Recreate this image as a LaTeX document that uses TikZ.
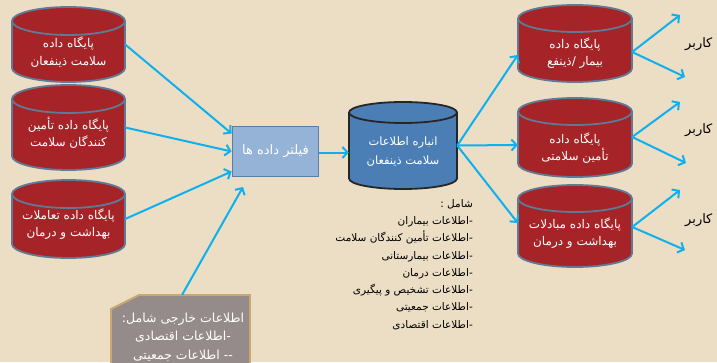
\documentclass[tikz,border=0pt]{standalone}
\usepackage{fontspec}
\usetikzlibrary{arrows.meta}
\TeXXeTstate=1
\newfontfamily\arabicfont[Script=Arabic]{DejaVu Sans}
\newcommand\fa[1]{\beginR #1\endR}
\definecolor{bgc}{RGB}{235,222,197}
\definecolor{dbred}{RGB}{166,36,40}
\definecolor{cylline}{RGB}{96,122,150}
\definecolor{dbblue}{RGB}{76,126,182}
\definecolor{filterfill}{RGB}{149,179,215}
\definecolor{filterline}{RGB}{90,126,166}
\definecolor{extfill}{RGB}{150,139,139}
\definecolor{extline}{RGB}{201,169,110}
\definecolor{arrowc}{RGB}{14,176,238}
\tikzset{
  conn/.style={draw=arrowc, line width=2pt, -{Straight Barb[length=5pt,width=11pt]}},
  wtext/.style={text=white, font=\arabicfont\fontsize{12}{17.5}\selectfont, align=center},
  btext/.style={text=black, font=\arabicfont\fontsize{10.5}{17.3}\selectfont, align=right},
  usertext/.style={text=black, font=\arabicfont\fontsize{13}{15}\selectfont},
  bodybox/.style={inner sep=0pt, draw=none},
}
% #1 name, #2 L, #3 R, #4 top(px), #5 bottom(px), #6 ry, #7 fill, #8 outline, #9 text y(px)
\newcommand\dbcyl[9]{%
  \pgfmathsetmacro\cx{(#2+#3)/2}%
  \pgfmathsetmacro\rx{(#3-#2)/2}%
  \pgfmathsetmacro\yt{362-#4-#6}%
  \pgfmathsetmacro\yb{362-#5+#6}%
  \pgfmathsetmacro\ww{#3-#2}%
  \pgfmathsetmacro\hh{#5-#4}%
  \pgfmathsetmacro\ym{362-(#4+#5)/2}%
  \fill[#7] (#2,\yt) -- (#2,\yb) arc[start angle=180,end angle=360,x radius=\rx pt,y radius=#6 pt] -- (#3,\yt) -- cycle;
  \draw[#8, line width=1.8pt] (#2,\yt) -- (#2,\yb) arc[start angle=180,end angle=360,x radius=\rx pt,y radius=#6 pt] -- (#3,\yt);
  \filldraw[fill=#7, draw=#8, line width=1.8pt] (\cx,\yt) ellipse [x radius=\rx pt, y radius=#6 pt];
  \node[bodybox, minimum width=\ww pt, minimum height=\hh pt] (#1) at (\cx,\ym) {};
  \coordinate (#1-t) at (\cx,362-#9);
}
\begin{document}
\begin{tikzpicture}[x=1pt,y=1pt]
\useasboundingbox (0,0) rectangle (717,362);
\clip (0,0) rectangle (717,362);
\fill[bgc] (0,0) rectangle (717,362);

% left databases
\dbcyl{c1}{12}{125}{7}{82}{14}{dbred}{cylline}{52}
\node[wtext] (c1t) at (c1-t) {\fa{پایگاه داده}\\\fa{سلامت ذینفعان}};
\dbcyl{c2}{12}{125}{85}{170}{14}{dbred}{cylline}{133}
\node[wtext] (c2t) at (c2-t) {\fa{پایگاه داده تأمین}\\\fa{کنندگان سلامت}};
\dbcyl{c3}{12}{125}{180}{258}{14}{dbred}{cylline}{224}
\node[wtext] (c3t) at (c3-t) {\fa{پایگاه داده تعاملات}\\\fa{بهداشت و درمان}};

% filter
\node[draw=filterline, fill=filterfill, line width=1.8pt, minimum width=86pt, minimum height=50pt,
      text=white, font=\arabicfont\fontsize{13}{15}\selectfont] (filter) at (275.5,362-151.5) {\fa{فیلتر داده ها}};

% center warehouse
\dbcyl{cc}{349}{457}{102}{189}{10.5}{dbblue}{black!85}{152}
\node[wtext, font=\arabicfont\fontsize{11.5}{19}\selectfont] (cct) at (cc-t) {\fa{انباره اطلاعات}\\\fa{سلامت ذینفعان}};

% right databases
\dbcyl{ra}{518}{632}{5}{82}{13.5}{dbred}{cylline}{53}
\node[wtext] (rat) at (ra-t) {\fa{پایگاه داده}\\\fa{بیمار /ذینفع}};
\dbcyl{rb}{518}{632}{98}{177}{13.5}{dbred}{cylline}{148}
\node[wtext] (rbt) at (rb-t) {\fa{پایگاه داده}\\\fa{تأمین سلامتی}};
\dbcyl{rc}{518}{632}{185}{267}{13.5}{dbred}{cylline}{233}
\node[wtext] (rct) at (rc-t) {\fa{پایگاه داده مبادلات}\\\fa{بهداشت و درمان}};

% list
\node[btext, anchor=north east, inner sep=0pt] (list) at (473,362-199) {%
\fa{شامل :}\\
\fa{-اطلاعات بیماران}\\
\fa{-اطلاعات تأمین کنندگان سلامت}\\
\fa{-اطلاعات بیمارستانی}\\
\fa{-اطلاعات درمان}\\
\fa{-اطلاعات تشخیص و پیگیری}\\
\fa{-اطلاعات جمعیتی}\\
\fa{-اطلاعات اقتصادی}};

% external info box
\filldraw[fill=extfill, draw=extline, line width=1.8pt]
  (111,362-309) -- (139,362-295) -- (250,362-295) -- (250,-10) -- (111,-10) -- cycle;
\node[wtext, font=\arabicfont\fontsize{12.5}{18.5}\selectfont, anchor=north] (ext) at (183,362-309) {%
\fa{اطلاعات خارجی شامل:}\\\fa{-اطلاعات اقتصادی}\\\fa{-- اطلاعات جمعیتی}};
\coordinate (exttop) at (182,362-295);

% user labels
\node[usertext, anchor=west, inner sep=0pt] (u1) at (685,362-44) {\fa{کاربر}};
\node[usertext, anchor=west, inner sep=0pt] (u2) at (685,362-130) {\fa{کاربر}};
\node[usertext, anchor=west, inner sep=0pt] (u3) at (685,362-220) {\fa{کاربر}};

% free ends
\coordinate (a1) at (680,362-15);
\coordinate (a2) at (685,362-77);
\coordinate (b1) at (680,362-102);
\coordinate (b2) at (686,362-163);
\coordinate (d1) at (680,362-190);
\coordinate (d2) at (685,362-250);
\coordinate (exttip) at (243,362-187);

% connectors
\draw[conn] (c1.east) -- ([yshift=18pt]filter.west);
\draw[conn] (c2.east) -- (filter.west);
\draw[conn] (c3.east) -- ([yshift=-20pt]filter.west);
\draw[conn] (exttop) -- (exttip);
\draw[conn] ([yshift=-1pt]filter.east) -- ([yshift=-1pt]filter.east -| cc.west);
\draw[conn] (cc.east) -- ([yshift=-11.5pt]ra.west);
\draw[conn] (cc.east) -- ([yshift=-7.5pt]rb.west);
\draw[conn] (cc.east) -- ([yshift=3pt]rc.west);
\draw[conn] ([yshift=-8.5pt]ra.east) -- (a1);
\draw[conn] ([yshift=-8.5pt]ra.east) -- (a2);
\draw[conn] ([yshift=0.5pt]rb.east) -- (b1);
\draw[conn] ([yshift=0.5pt]rb.east) -- (b2);
\draw[conn] ([yshift=-1pt]rc.east) -- (d1);
\draw[conn] ([yshift=-1pt]rc.east) -- (d2);
\end{tikzpicture}
\end{document}
